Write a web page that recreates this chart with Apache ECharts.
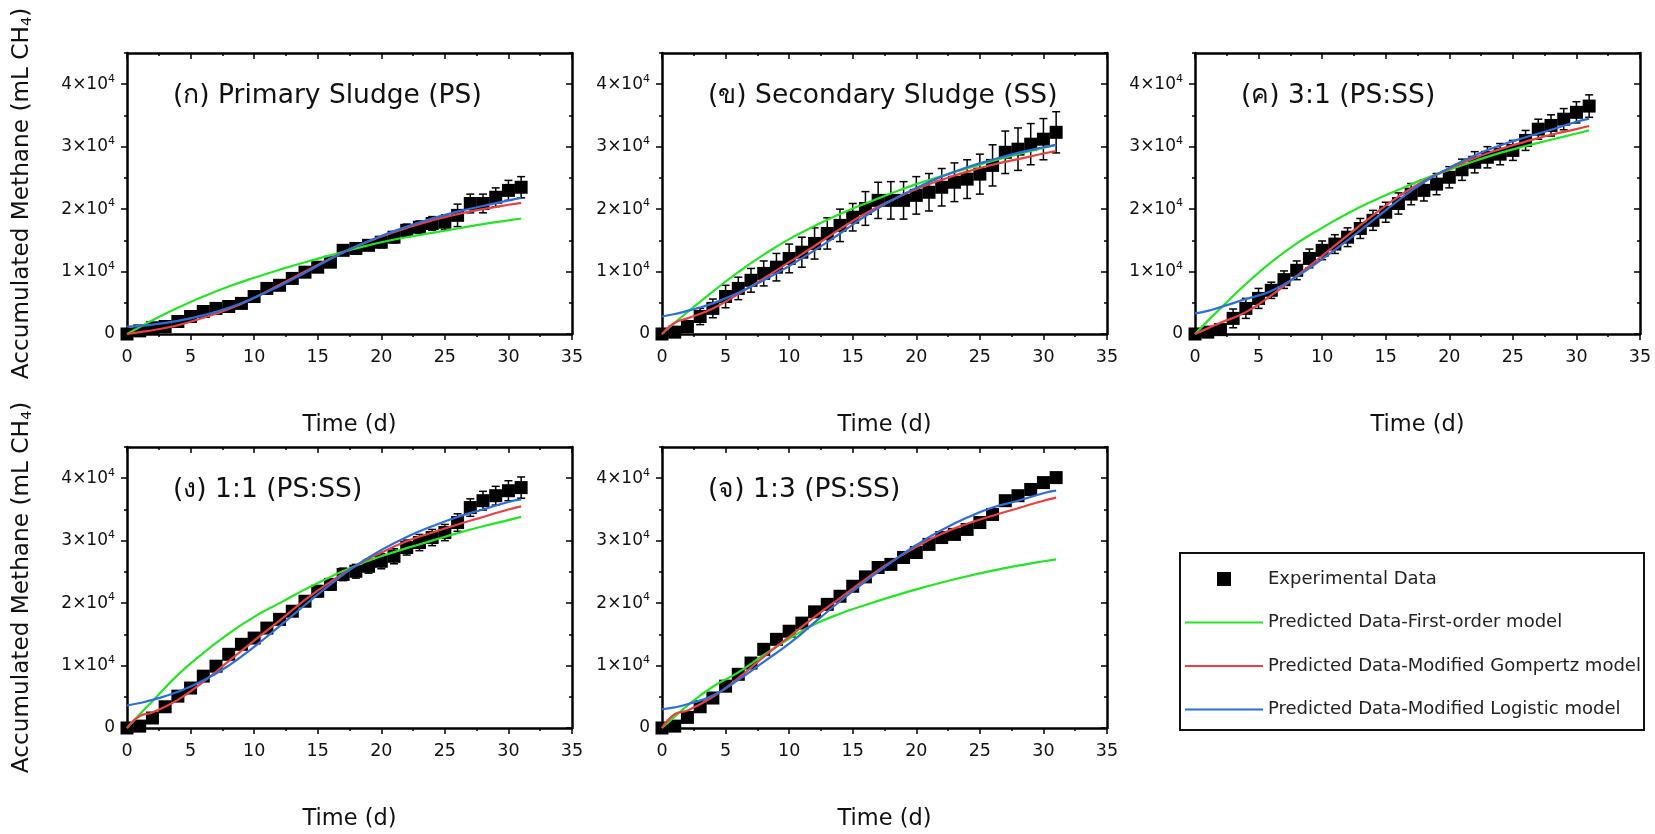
<!DOCTYPE html>
<html><head><meta charset="utf-8">
<script src="https://cdn.jsdelivr.net/npm/echarts@6/dist/echarts.min.js"></script>
<style>html,body{margin:0;padding:0;background:#fff}#c{width:1655px;height:834px}</style>
</head><body><div id="c"></div>
<script>
const FONT = '"DejaVu Sans", "Noto Sans", sans-serif';

// ---- data ----
const days = [0,1,2,3,4,5,6,7,8,9,10,11,12,13,14,15,16,17,18,19,20,21,22,23,24,25,26,27,28,29,30,31];
const curveDays = [0,1,2,4,6,8,10,12,14,16,18,20,22,24,26,28,30,31];
const yTickValues = [0,10000,20000,30000,40000];
const seriesNames = ['Experimental Data','Predicted Data-First-order model','Predicted Data-Modified Gompertz model','Predicted Data-Modified Logistic model'];
const panelTitles = ['(ก) Primary Sludge (PS)','(ข) Secondary Sludge (SS)','(ค) 3:1 (PS:SS)','(ง) 1:1 (PS:SS)','(จ) 1:3 (PS:SS)'];

// (ก) Primary Sludge
const expPS = [0,500,1000,1200,2000,2800,3600,4100,4400,4900,6000,7300,7800,8900,9900,10700,11500,13400,13700,14200,14700,15500,16600,17100,17700,17900,19000,20900,20900,21900,23000,23500];
const errPS = [0,200,300,300,300,400,400,400,400,500,500,500,600,600,600,600,700,700,800,800,900,900,1000,1000,1100,1200,1800,1500,1500,1500,1600,1700];
const firstPS = [0,1100,2200,4200,6000,7600,9000,10300,11500,12600,13700,14700,15500,16200,16900,17600,18200,18500];
const gompPS = [0,300,600,1400,2600,4000,5800,7900,10000,12100,14000,15600,17000,18200,19200,20000,20700,21000];
const logPS = [1200,1300,1500,2100,3000,4200,5800,7700,9800,12000,14000,15700,17200,18500,19600,20500,21400,21800];

// (ข) Secondary Sludge
const expSS = [0,300,1200,2800,4100,6000,7300,8600,9700,10700,12100,13100,14500,16100,17400,18700,20100,21400,21400,21400,22200,22700,23500,24300,24800,25600,27000,29100,29600,30400,31200,32300];
const errSS = [0,500,800,1300,1500,1800,1800,1900,2000,2200,2300,2400,2500,2500,2600,2200,2700,2900,3000,3000,3000,3000,3000,3100,3100,3200,3300,3400,3400,3300,3300,3300];
const firstSS = [0,1800,3500,6800,9900,12700,15200,17300,19200,20900,22500,24000,25300,26500,27700,28800,29800,30300];
const gompSS = [0,1800,2500,4100,6400,8900,11500,14100,16800,19300,21400,23200,24700,26000,27100,28000,28900,29300];
const logSS = [2800,3200,3700,4900,6600,8600,10900,13400,16100,18900,21300,23400,25200,26700,27900,29000,29900,30300];

// (ค) 3:1
const exp31 = [0,300,700,2500,4100,5700,7000,8700,10200,12100,13400,14400,15500,16900,18200,19500,20900,22400,23000,24000,25100,26300,27500,28300,28800,29400,31000,32800,33400,34400,35500,36500];
const err31 = [0,400,800,1500,1600,1600,1300,1400,1500,1500,1500,1500,1500,1600,1600,1600,1700,1700,1700,1700,1700,1700,1700,1700,1700,1600,1600,1600,1700,1700,1700,1800];
const first31 = [0,2100,4100,8000,11500,14500,17000,19300,21300,23100,24800,26300,27700,29000,30100,31100,32100,32600];
const gomp31 = [0,900,1800,3500,6200,9300,12500,15800,19000,22000,24500,26500,28200,29600,30800,31900,32800,33300];
const log31 = [3300,3700,4300,5600,6900,9200,12000,15000,18200,21400,24300,26600,28600,30200,31500,32700,34000,34500];

// (ง) 1:1
const exp11 = [0,300,1600,3400,5100,6400,8300,9900,11800,13400,14400,16000,17400,18700,20300,21900,23000,24600,25100,25900,26700,27500,28900,29700,30500,31300,32900,35300,36400,37200,38000,38500];
const err11 = [0,200,300,400,500,500,500,600,600,600,700,700,800,800,800,900,900,1000,1100,1100,1200,1200,1200,1300,1300,1300,1400,1400,1500,1500,1600,1700];
const first11 = [0,2200,4300,8500,12000,15100,17800,20000,22200,24200,26000,27500,28800,30000,31200,32300,33300,33800];
const gomp11 = [0,1900,2500,4500,7400,10700,14000,17200,20500,23400,26000,28100,29900,31300,32600,33800,35000,35500];
const log11 = [3600,4000,4500,5800,7600,10000,13000,16300,19700,23000,26000,28500,30600,32300,33800,35000,36200,36600];

// (จ) 1:3
const exp13 = [0,300,1700,3400,4800,6700,8600,10400,12600,14200,15500,16800,18600,19800,21100,22700,24200,25700,26200,27300,28100,29400,30500,31000,31800,32900,34200,36400,37200,38200,39300,40100];
const err13 = [0,300,300,300,300,300,300,300,300,300,300,300,300,300,300,300,300,300,300,300,300,300,300,300,300,300,300,300,300,300,300,300];
const first13 = [0,1800,3600,6600,8900,11700,14300,16600,18300,19700,21000,22200,23300,24300,25200,26000,26700,27000];
const gomp13 = [0,2200,2800,5000,8000,11400,14600,17800,20800,23800,26600,29000,31100,32700,34000,35200,36400,36900];
const log13 = [3000,3300,3800,5200,7700,10600,13500,16900,20300,23500,26500,29300,31700,33700,35300,36400,37600,38000];

const panels = [
  {exp: expPS, err: errPS, first: firstPS, gomp: gompPS, logi: logPS},
  {exp: expSS, err: errSS, first: firstSS, gomp: gompSS, logi: logSS},
  {exp: exp31, err: err31, first: first31, gomp: gomp31, logi: log31},
  {exp: exp11, err: err11, first: first11, gomp: gomp11, logi: log11},
  {exp: exp13, err: err13, first: first13, gomp: gomp13, logi: log13}
];

// ---- layout ----
const gridPos = [
  {left: 127, top: 53}, {left: 662, top: 53}, {left: 1195, top: 53},
  {left: 127, top: 447}, {left: 662, top: 447}
];
const GW = 445, GH = 281;
const COLORS = {first: '#22e622', gomp: '#ef3e3e', logi: '#2a6fdd'};
const BLACK = '#000';
const LINE_ICON = 'path://M0,0h78v2.2h-78z';
const SQUARE_ICON = 'path://M0,0h10v10h-10z';

function yLabel(v) {
  if (v === 0) return '{n|0}';
  if (v % 10000 === 0 && v <= 40000) return '{n|' + (v / 10000) + '×10}{s|4}';
  return '';
}

const xAxes = [], yAxes = [], series = [];
gridPos.forEach((g, i) => {
  const common = {gridIndex: i, type: 'value', min: 0, max: 35, interval: 5, splitLine: {show: false}};
  xAxes.push(Object.assign({}, common, {
    position: 'bottom',
    axisLine: {show: true, onZero: false, lineStyle: {color: BLACK, width: 2.5}},
    axisTick: {show: true, inside: false, length: 6, lineStyle: {color: BLACK, width: 1.5}},
    minorTick: {show: true, splitNumber: 2, length: 3, lineStyle: {color: BLACK, width: 1.5}},
    axisLabel: {show: true, fontSize: 17.5, color: '#111', margin: 14, fontFamily: FONT},
    name: 'Time (d)', nameLocation: 'middle', nameGap: 80,
    nameTextStyle: {fontSize: 22.5, color: '#111', fontFamily: FONT}
  }));
  xAxes.push(Object.assign({}, common, {
    position: 'top',
    axisLine: {show: true, onZero: false, lineStyle: {color: BLACK, width: 2.5}},
    axisTick: {show: true, inside: true, length: 6, lineStyle: {color: BLACK, width: 1.5}},
    minorTick: {show: true, splitNumber: 2, length: 3, lineStyle: {color: BLACK, width: 1.5}},
    axisLabel: {show: false}
  }));
  const yc = {gridIndex: i, type: 'value', min: 0, max: 45000, interval: 5000, splitLine: {show: false}};
  const leftMajor = Object.assign({}, yc, {
    position: 'left',
    axisLine: {show: true, onZero: false, lineStyle: {color: BLACK, width: 2.5}},
    axisTick: {show: true, inside: false, length: 6, customValues: yTickValues, lineStyle: {color: BLACK, width: 1.5}},
    axisLabel: {show: true, margin: 12, formatter: yLabel,
      rich: {n: {fontSize: 17, color: '#111', fontFamily: FONT, lineHeight: 22},
             s: {fontSize: 11, color: '#111', fontFamily: FONT, verticalAlign: 'top', lineHeight: 11}}}
  });
  if (i === 0 || i === 3) {
    leftMajor.name = '{a|Accumulated Methane (mL CH}{b|4}{a|)}';
    leftMajor.nameLocation = 'middle';
    leftMajor.nameGap = 92;
    leftMajor.nameRotate = 90;
    leftMajor.nameTextStyle = {rich: {
      a: {fontSize: 23.2, color: '#111', fontFamily: FONT, lineHeight: 26},
      b: {fontSize: 14.5, color: '#111', fontFamily: FONT, verticalAlign: 'bottom', lineHeight: 14}
    }};
  }
  yAxes.push(leftMajor);
  yAxes.push(Object.assign({}, yc, {
    position: 'left',
    axisLine: {show: false, onZero: false},
    axisTick: {show: true, inside: false, length: 3, lineStyle: {color: BLACK, width: 1.5}},
    axisLabel: {show: false}
  }));
  yAxes.push(Object.assign({}, yc, {
    position: 'right',
    axisLine: {show: true, onZero: false, lineStyle: {color: BLACK, width: 2.5}},
    axisTick: {show: true, inside: true, length: 6, customValues: yTickValues, lineStyle: {color: BLACK, width: 1.5}},
    axisLabel: {show: false}
  }));
  yAxes.push(Object.assign({}, yc, {
    position: 'right',
    axisLine: {show: false, onZero: false},
    axisTick: {show: true, inside: true, length: 3, lineStyle: {color: BLACK, width: 1.5}},
    axisLabel: {show: false}
  }));

  const p = panels[i];
  const xi = 2 * i, yi = 4 * i;
  series.push({
    name: seriesNames[0], type: 'scatter', xAxisIndex: xi, yAxisIndex: yi,
    symbol: 'rect', symbolSize: 13, itemStyle: {color: BLACK, opacity: 1},
    data: days.map((d, k) => [d, p.exp[k]]), z: 2
  });
  series.push({
    name: 'Error', type: 'custom', xAxisIndex: xi, yAxisIndex: yi,
    data: days.map((d, k) => [d, p.exp[k], p.err[k]]),
    encode: {x: 0, y: 1}, z: 3,
    renderItem: function (params, api) {
      const x = api.value(0), m = api.value(1), e = api.value(2);
      if (!e) return null;
      const t = api.coord([x, m + e]), b = api.coord([x, m - e]);
      const hw = 4;
      const st = {stroke: BLACK, lineWidth: 1.5};
      return {type: 'group', children: [
        {type: 'line', shape: {x1: t[0], y1: t[1], x2: b[0], y2: b[1]}, style: st},
        {type: 'line', shape: {x1: t[0] - hw, y1: t[1], x2: t[0] + hw, y2: t[1]}, style: st},
        {type: 'line', shape: {x1: b[0] - hw, y1: b[1], x2: b[0] + hw, y2: b[1]}, style: st}
      ]};
    }
  });
  [['first', 1], ['gomp', 2], ['logi', 3]].forEach(([key, ni]) => {
    series.push({
      name: seriesNames[ni], type: 'line', xAxisIndex: xi, yAxisIndex: yi,
      symbol: 'none', smooth: 0.5,
      lineStyle: {color: COLORS[key], width: 2.2}, itemStyle: {color: COLORS[key]},
      data: curveDays.map((d, k) => [d, p[key][k]]), z: 4
    });
  });
});

const legendColors = [BLACK, COLORS.first, COLORS.gomp, COLORS.logi];
const option = {
  animation: false,
  backgroundColor: '#fff',
  textStyle: {fontFamily: FONT},
  title: panelTitles.map((t, i) => ({
    text: t, left: gridPos[i].left + 46, top: gridPos[i].top + 30, padding: 0,
    textStyle: {fontSize: 26.5, fontWeight: 'normal', color: '#111', fontFamily: FONT}
  })),
  grid: gridPos.map(g => ({left: g.left, top: g.top, width: GW, height: GH})),
  xAxis: xAxes,
  yAxis: yAxes,
  legend: {
    orient: 'vertical', left: 1185, top: 569, padding: 0,
    itemWidth: 78, itemHeight: 14, itemGap: 23.5, symbolKeepAspect: true,
    textStyle: {fontSize: 18, color: '#222', fontFamily: FONT, lineHeight: 20},
    data: seriesNames.map((n, k) => ({
      name: n, icon: k === 0 ? SQUARE_ICON : LINE_ICON,
      itemStyle: {color: legendColors[k], borderWidth: 0},
      lineStyle: {width: 0}
    }))
  },
  graphic: [{
    type: 'rect', shape: {x: 1180, y: 553, width: 464, height: 177},
    style: {fill: 'none', stroke: '#111', lineWidth: 2}, silent: true
  }],
  series: series
};

const chart = echarts.init(document.getElementById('c'), null, {renderer: 'canvas'});
chart.setOption(option);
</script>
</body></html>
